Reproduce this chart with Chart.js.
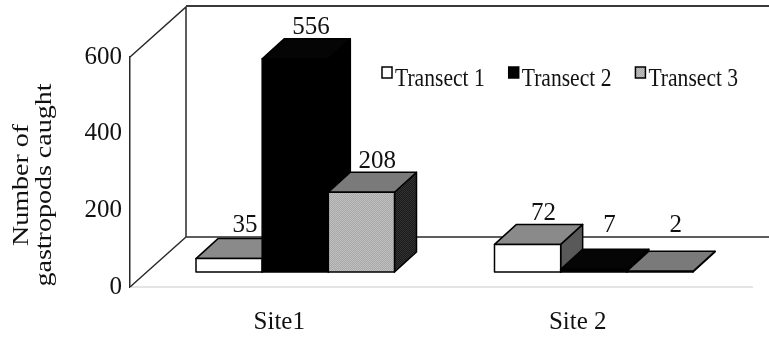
<!DOCTYPE html>
<html>
<head>
<meta charset="utf-8">
<script src="https://cdn.jsdelivr.net/npm/chart.js@4.4.1/dist/chart.umd.min.js"></script>
<style>
  html, body { margin: 0; padding: 0; background: #fff; }
  #wrap { width: 769px; height: 343px; }
</style>
</head>
<body>
<div id="wrap"><canvas id="gastropodChart" width="769" height="343"></canvas></div>
<script>
const sites = ["Site1", "Site 2"];
const transectNames = ["Transect 1", "Transect 2", "Transect 3"];
const transect1 = [35, 72];
const transect2 = [556, 7];
const transect3 = [208, 2];
const yTicks = [0, 200, 400, 600];
const yTitle = ["Number of", "gastropods caught"];

// oblique projection offsets
const WALL_X = 56, WALL_Y = -50;    // back wall behind the front plane
const SHIFT_X = 16, SHIFT_Y = -15;  // bars stand a little behind the front plane
const DEPTH_X = 22, DEPTH_Y = -20;  // depth of each bar
const SERIF = "'Liberation Serif', 'Times New Roman', serif";
const INK = "#111";

function stipple(ctx, a, b) {
  const c = document.createElement("canvas");
  c.width = 2; c.height = 2;
  const g = c.getContext("2d");
  g.fillStyle = a; g.fillRect(0, 0, 2, 2);
  g.fillStyle = b; g.fillRect(0, 0, 1, 1); g.fillRect(1, 1, 1, 1);
  return ctx.createPattern(c, "repeat");
}

let faces = null;
function getFaces(ctx) {
  if (!faces) {
    faces = [
      { front: "#ffffff", top: "#8a8a8a", side: "#595959" },
      { front: "#000000", top: "#050505", side: "#000000" },
      { front: stipple(ctx, "#a8a8a8", "#c0c0c0"), top: "#7a7a7a", side: stipple(ctx, "#1a1a1a", "#333333") }
    ];
  }
  return faces;
}

function poly(ctx, pts, fill) {
  ctx.beginPath();
  ctx.moveTo(pts[0][0], pts[0][1]);
  for (let i = 1; i < pts.length; i++) ctx.lineTo(pts[i][0], pts[i][1]);
  ctx.closePath();
  ctx.fillStyle = fill;
  ctx.fill();
  ctx.stroke();
}

// squeezed text, the face used on the original print is narrow
function narrowText(ctx, txt, x, y, sx) {
  ctx.save();
  ctx.translate(x, y);
  ctx.scale(sx, 1);
  ctx.fillText(txt, 0, 0);
  ctx.restore();
}

const box3d = {
  id: "box3d",
  beforeDatasetsDraw(chart) {
    const { ctx, chartArea: a } = chart;
    ctx.save();
    // floor front edge, faint
    ctx.strokeStyle = "#e4e4e4";
    ctx.lineWidth = 2;
    ctx.beginPath();
    ctx.moveTo(a.left, a.bottom);
    ctx.lineTo(a.right + 26, a.bottom);
    ctx.stroke();
    // side wall and back wall
    ctx.strokeStyle = "#2a2a2a";
    ctx.lineWidth = 1.5;
    ctx.beginPath();
    ctx.moveTo(a.left, a.top);
    ctx.lineTo(a.left + WALL_X, a.top + WALL_Y);
    ctx.lineTo(a.left + WALL_X, a.bottom + WALL_Y);
    ctx.lineTo(a.left, a.bottom);
    ctx.moveTo(a.left + WALL_X, a.bottom + WALL_Y);
    ctx.lineTo(a.right + WALL_X, a.bottom + WALL_Y);
    ctx.stroke();
    ctx.strokeStyle = "#3a3a3a";
    ctx.lineWidth = 2;
    ctx.beginPath();
    ctx.moveTo(a.left + WALL_X, a.top + WALL_Y - 1);
    ctx.lineTo(a.right + WALL_X, a.top + WALL_Y - 1);
    ctx.stroke();

    // y axis title
    ctx.fillStyle = INK;
    ctx.font = "28px " + SERIF;
    ctx.textAlign = "center";
    ctx.textBaseline = "middle";
    const cy = (a.top + a.bottom) / 2 + 13;
    yTitle.forEach((line, i) => {
      ctx.save();
      ctx.translate(22 + i * 23, cy);
      ctx.rotate(-Math.PI / 2);
      ctx.scale(1, 0.82);
      ctx.fillText(line, 0, 0);
      ctx.restore();
    });

    // legend
    ctx.font = "26px " + SERIF;
    ctx.textAlign = "left";
    ctx.textBaseline = "alphabetic";
    const f = getFaces(ctx);
    let lx = a.left + 252;
    transectNames.forEach((name, i) => {
      ctx.fillStyle = f[i].front;
      ctx.strokeStyle = "#000";
      ctx.lineWidth = 1.5;
      ctx.fillRect(lx, 67, 10, 11);
      ctx.strokeRect(lx, 67, 10, 11);
      ctx.fillStyle = INK;
      narrowText(ctx, name, lx + 13, 86, 0.83);
      lx += 13 + ctx.measureText(name).width * 0.83 + 24;
    });
    ctx.restore();
  },
  afterDatasetsDraw(chart) {
    const { ctx, chartArea: a } = chart;
    const f = getFaces(ctx);
    ctx.save();
    ctx.strokeStyle = "#000";
    ctx.lineWidth = 1.5;
    ctx.lineJoin = "round";
    const labels = [];
    for (let c = 0; c < sites.length; c++) {
      chart.data.datasets.forEach((ds, i) => {
        const el = chart.getDatasetMeta(i).data[c];
        const p = el.getProps(["x", "y", "base", "width"], true);
        const x0 = p.x - p.width / 2 + SHIFT_X, x1 = p.x + p.width / 2 + SHIFT_X;
        const yt = p.y + SHIFT_Y, yb = p.base + SHIFT_Y;
        poly(ctx, [[x1, yt], [x1 + DEPTH_X, yt + DEPTH_Y], [x1 + DEPTH_X, yb + DEPTH_Y], [x1, yb]], f[i].side);
        poly(ctx, [[x0, yt], [x0 + DEPTH_X, yt + DEPTH_Y], [x1 + DEPTH_X, yt + DEPTH_Y], [x1, yt]], f[i].top);
        poly(ctx, [[x0, yt], [x1, yt], [x1, yb], [x0, yb]], f[i].front);
        const ly = Math.min(yt + DEPTH_Y - 11, a.bottom + WALL_Y - 12);
        labels.push([String(ds.data[c]), p.x + SHIFT_X + DEPTH_X * 0.72, ly]);
      });
    }
    ctx.fillStyle = INK;
    ctx.font = "25px " + SERIF;
    ctx.textAlign = "center";
    ctx.textBaseline = "middle";
    labels.forEach(([t, x, y]) => ctx.fillText(t, x, y));
    ctx.restore();
  }
};

const clear = "rgba(0,0,0,0)";
new Chart(document.getElementById("gastropodChart"), {
  type: "bar",
  data: {
    labels: sites,
    datasets: [
      { label: transectNames[0], data: transect1, backgroundColor: clear, borderWidth: 0 },
      { label: transectNames[1], data: transect2, backgroundColor: clear, borderWidth: 0 },
      { label: transectNames[2], data: transect3, backgroundColor: clear, borderWidth: 0 }
    ]
  },
  options: {
    responsive: false,
    animation: false,
    devicePixelRatio: 1,
    categoryPercentage: 0.665,
    barPercentage: 1,
    layout: { padding: { left: 0, top: 57, right: 42, bottom: 0 } },
    plugins: { legend: { display: false }, tooltip: { enabled: false } },
    scales: {
      x: {
        grid: { display: false, drawTicks: false },
        border: { display: false },
        ticks: { color: INK, padding: 20, font: { family: SERIF, size: 25 } },
        afterFit: (s) => { s.height = 56; }
      },
      y: {
        min: 0,
        max: 600,
        grid: { display: false, drawTicks: false },
        border: { display: true, color: "#2a2a2a", width: 1.5 },
        ticks: { color: INK, padding: 8, font: { family: SERIF, size: 25 } },
        afterBuildTicks: (s) => { s.ticks = yTicks.map((v) => ({ value: v })); },
        afterFit: (s) => { s.width = 130; }
      }
    }
  },
  plugins: [box3d]
});
</script>
</body>
</html>
